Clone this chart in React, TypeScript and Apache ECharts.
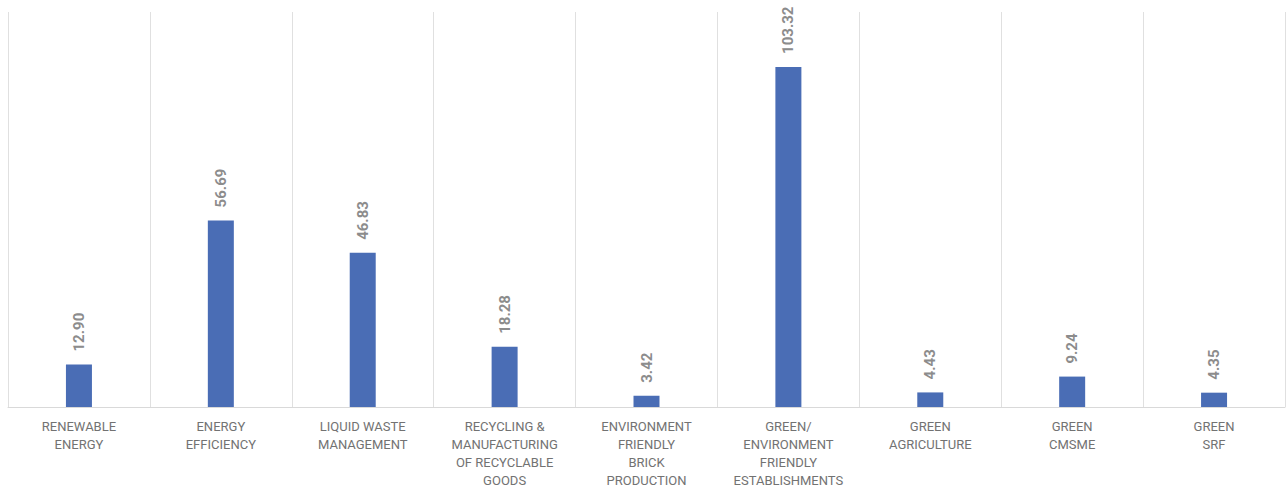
import React, { useEffect, useRef } from "react";
import * as echarts from "echarts";

const categories = [
  "RENEWABLE\nENERGY",
  "ENERGY\nEFFICIENCY",
  "LIQUID WASTE\nMANAGEMENT",
  "RECYCLING &\nMANUFACTURING\nOF RECYCLABLE\nGOODS",
  "ENVIRONMENT\nFRIENDLY\nBRICK\nPRODUCTION",
  "GREEN/\nENVIRONMENT\nFRIENDLY\nESTABLISHMENTS",
  "GREEN\nAGRICULTURE",
  "GREEN\nCMSME",
  "GREEN\nSRF",
];
const values = [12.9, 56.69, 46.83, 18.28, 3.42, 103.32, 4.43, 9.24, 4.35];

export default function App() {
  const ref = useRef<HTMLDivElement>(null);
  useEffect(() => {
    if (!ref.current) return;
    const chart = echarts.init(ref.current, undefined, { renderer: "svg" });
    chart.setOption({
      animation: false,
      grid: { left: 8, right: 2, top: 12, bottom: 78, containLabel: false },
      xAxis: {
        type: "category",
        data: categories,
        axisLine: { show: true, lineStyle: { color: "#d9d9d9", width: 1 } },
        axisTick: { show: false },
        splitLine: { show: true, interval: 0, lineStyle: { color: "#e0e0e0", width: 1 } },
        axisLabel: {
          interval: 0,
          margin: 10,
          color: "#727272",
          fontFamily: "Roboto",
          fontSize: 13,
          lineHeight: 18,
          align: "center",
        },
      },
      yAxis: {
        type: "value",
        min: 0,
        max: 120,
        show: false,
        splitLine: { show: false },
      },
      series: [
        {
          type: "bar",
          data: values,
          barWidth: 26,
          itemStyle: { color: "#4a6db5" },
          label: {
            show: true,
            position: "top",
            rotate: 90,
            align: "left",
            verticalAlign: "middle",
            distance: 13,
            color: "#8c8c8c",
            fontFamily: "Roboto",
            fontWeight: "bold",
            fontSize: 15,
            formatter: (p: any) => Number(p.value).toFixed(2),
          },
        },
      ],
    });
    return () => chart.dispose();
  }, []);
  return (
    <div
      ref={ref}
      style={{ position: "fixed", left: 0, top: 0, width: 1287, height: 489, background: "#fff" }}
    />
  );
}
